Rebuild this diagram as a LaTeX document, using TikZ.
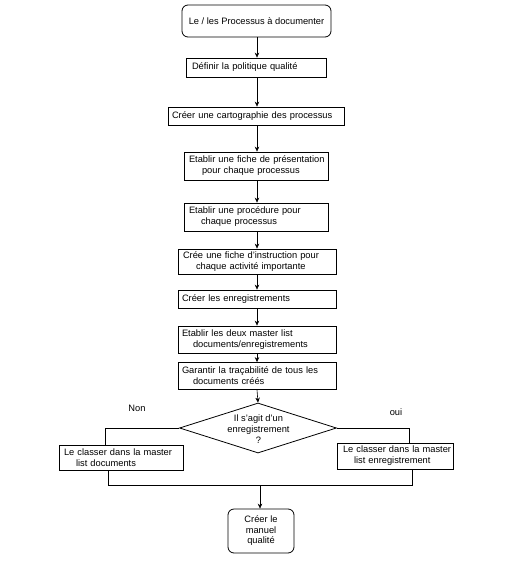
\documentclass[tikz,border=0pt]{standalone}
\usepackage{fontspec}
\setmainfont{Liberation Sans}
\usetikzlibrary{shapes.geometric,arrows.meta}
\begin{document}
\begin{tikzpicture}[x=1pt,y=-1pt,
  every node/.style={font=\fontsize{9.3}{11}\selectfont},
  box/.style={draw, line width=0.8pt, inner sep=0pt, align=left},
  rbox/.style={draw, line width=0.8pt, inner sep=0pt, align=center, rounded corners=6pt},
  link/.style={line width=0.6pt},
  arr/.style={line width=0.6pt, -{Stealth[length=5pt,width=4.5pt]}}
]
\path[fill=white, use as bounding box] (0,0) rectangle (511,569);

\coordinate (sp) at (257,0);

\node[rbox, minimum width=149pt, minimum height=32pt] (b1) at (256.5,21) {Le / les Processus à documenter};
\node[box, minimum width=140pt, minimum height=19pt, text width=128pt] (b2) at (256,67.5) {\mbox{Définir la politique qualité}};
\node[box, minimum width=176pt, minimum height=18pt, text width=168pt] (b3) at (256,116) {\mbox{Créer une cartographie des processus}};
\node[box, minimum width=144pt, minimum height=28pt, text width=134pt] (b4) at (256,166) {\mbox{Etablir une fiche de présentation}\\\hspace*{13pt}\mbox{pour chaque processus}};
\node[box, minimum width=144pt, minimum height=28pt, text width=134pt] (b5) at (256,217) {\mbox{Etablir une procédure pour}\\\hspace*{12pt}\mbox{chaque processus}};
\node[box, minimum width=158pt, minimum height=25pt, text width=148pt] (b6) at (257,261.5) {\mbox{Crée une fiche d'instruction pour}\\\hspace*{13pt}\mbox{chaque activité importante}};
\node[box, minimum width=158pt, minimum height=18pt, text width=150pt] (b7) at (257,299) {\mbox{Créer les enregistrements}};
\node[box, minimum width=158pt, minimum height=27pt, text width=150pt] (b8) at (257,339.5) {\mbox{Etablir les deux master list}\\\hspace*{11pt}\mbox{documents/enregistrements}};
\node[box, minimum width=158pt, minimum height=27pt, text width=150pt] (b9) at (257,376) {\mbox{Garantir la traçabilité de tous les}\\\hspace*{11pt}\mbox{documents créés}};

\node[draw, diamond, line width=0.8pt, inner sep=0pt, minimum width=157pt, minimum height=50pt] (d) at (258,428) {};
\node[align=center, inner sep=0pt] (dt) at (258.5,429) {Il s'agit d'un\\enregistrement\\?};

\node[box, minimum width=124pt, minimum height=25pt, text width=114pt] (lb) at (121,457.5) {\mbox{Le classer dans la master}\\\hspace*{12pt}\mbox{list documents}};
\node[box, minimum width=116pt, minimum height=26pt, text width=104pt] (rb) at (395,456) {\mbox{Le classer dans la master}\\\hspace*{11pt}\mbox{list enregistrement}};

\node[rbox, minimum width=66pt, minimum height=44pt, font=\fontsize{9.3}{10.5}\selectfont] (fb) at (261,531) {Créer le\\manuel\\qualité};

\node (non) at (137,408) {Non};
\node (oui) at (396,412) {oui};

\draw[arr] (sp |- b1.south) -- (sp |- b2.north);
\draw[arr] (sp |- b2.south) -- (sp |- b3.north);
\draw[arr] (sp |- b3.south) -- (sp |- b4.north);
\draw[arr] (sp |- b4.south) -- (sp |- b5.north);
\draw[arr] (sp |- b5.south) -- (sp |- b6.north);
\draw[arr] (sp |- b6.south) -- (sp |- b7.north);
\draw[arr] (sp |- b7.south) -- (sp |- b8.north);
\draw[arr] (sp |- b8.south) -- (sp |- b9.north);
\draw[arr] (sp |- b9.south) -- (d.north);

\coordinate (lt) at (105,0);
\coordinate (rt) at (409,0);
\draw[link] (d.west) -| (lt |- lb.north);
\draw[link] (d.east) -| (rt |- rb.north);

\coordinate (jl) at (108,485);
\coordinate (jr) at (412,485);
\coordinate (jm) at (260,485);
\draw[link] (lb.south -| jl) -- (jl) -- (jr) -- (rb.south -| jr);
\draw[arr] (jm) -- (fb.north -| jm);
\end{tikzpicture}
\end{document}
